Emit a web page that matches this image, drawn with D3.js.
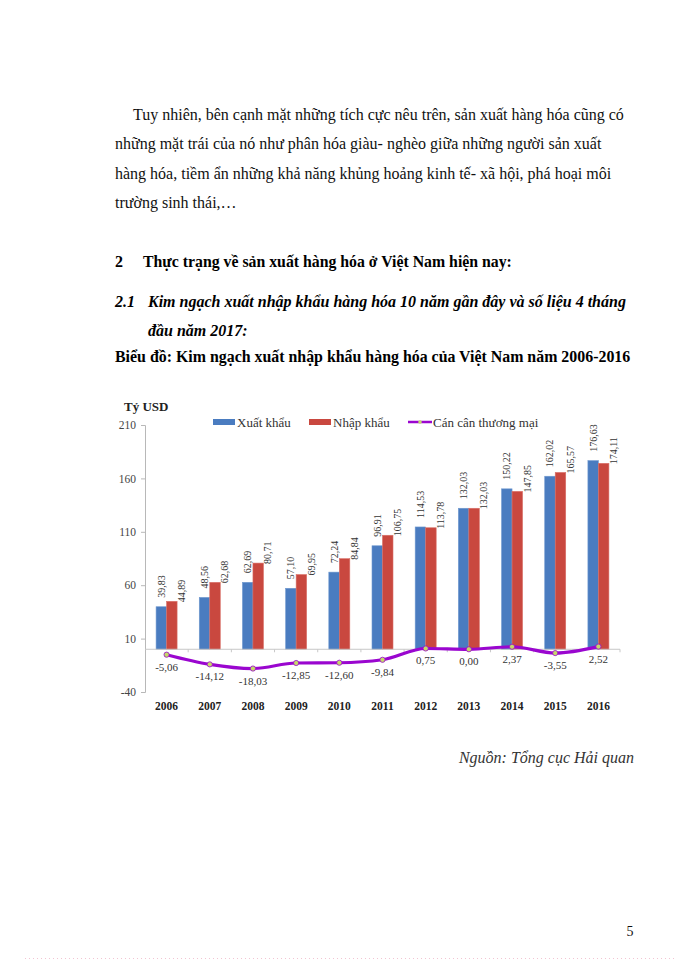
<!DOCTYPE html>
<html>
<head>
<meta charset="utf-8">
<script src="https://cdn.jsdelivr.net/npm/d3@7"></script>
<style>
  body { margin: 0; background: #fff; }
  svg { display: block; }
  svg text { font-family: 'Liberation Serif', 'Tinos', 'Times New Roman', 'DejaVu Serif', serif !important; }
</style>
</head>
<body>
<div id="page"></div>
<script>
// data
var years = ["2006", "2007", "2008", "2009", "2010", "2011", "2012", "2013", "2014", "2015", "2016"];
var exportVals = [39.83, 48.56, 62.69, 57.10, 72.24, 96.91, 114.53, 132.03, 150.22, 162.02, 176.63];
var importVals = [44.89, 62.68, 80.71, 69.95, 84.84, 106.75, 113.78, 132.03, 147.85, 165.57, 174.11];
var balanceVals = [-5.06, -14.12, -18.03, -12.85, -12.60, -9.84, 0.75, 0.00, 2.37, -3.55, 2.52];
var yTicks = [-40, 10, 60, 110, 160, 210];
var seriesNames = ["Xuất khẩu", "Nhập khẩu", "Cán cân thương mại"];

var paragraph = [
  "Tuy nhiên, bên cạnh mặt những tích cực nêu trên, sản xuất hàng hóa cũng có",
  "những mặt trái  của nó như phân hóa giàu- nghèo giữa những người sản xuất",
  "hàng hóa, tiềm ẩn những khả năng khủng hoảng kinh tế- xã hội, phá hoại môi",
  "trường sinh thái,…"
];

var fmt = function(v){ return v.toFixed(2).replace(".", ","); };

var W = 700, H = 960;
var svg = d3.select("#page").append("svg")
  .attr("width", W)
  .attr("height", H);

// page text
var para = svg.append("g").style("font-size", "16px").style("fill", "#111");
para.selectAll("text")
  .data(paragraph)
  .enter()
  .append("text")
  .attr("x", function(d, i){ return i === 0 ? 133 : 115; })
  .attr("y", function(d, i){ return 120 + i * 29.3; })
  .text(function(d){ return d; });

svg.append("text").attr("x", 115).attr("y", 267)
  .style("font-size", "16px").style("font-weight", "bold").text("2");
svg.append("text").attr("x", 143).attr("y", 267)
  .style("font-size", "15.8px").style("font-weight", "bold")
  .text("Thực trạng về sản xuất hàng hóa ở Việt Nam hiện nay:");

svg.append("text").attr("x", 115).attr("y", 307)
  .style("font-size", "16px").style("font-weight", "bold").style("font-style", "italic").text("2.1");
svg.append("text").attr("x", 148).attr("y", 307)
  .style("font-size", "16px").style("font-weight", "bold").style("font-style", "italic")
  .text("Kim ngạch xuất nhập khẩu hàng hóa 10 năm gần đây và số liệu 4 tháng");
svg.append("text").attr("x", 148).attr("y", 336)
  .style("font-size", "16px").style("font-weight", "bold").style("font-style", "italic")
  .text("đầu năm 2017:");

svg.append("text").attr("x", 115).attr("y", 362)
  .style("font-size", "15.9px").style("font-weight", "bold")
  .text("Biểu đồ: Kim ngạch xuất nhập khẩu hàng hóa của Việt Nam năm 2006-2016");

svg.append("text").attr("x", 634).attr("y", 763)
  .attr("text-anchor", "end")
  .style("font-size", "16px").style("font-style", "italic").style("fill", "#333")
  .text("Nguồn: Tổng cục Hải quan");

svg.append("text").attr("x", 630).attr("y", 936)
  .attr("text-anchor", "middle")
  .style("font-size", "14px").style("fill", "#111")
  .text("5");

svg.append("line")
  .attr("x1", 25).attr("x2", 675).attr("y1", 958.5).attr("y2", 958.5)
  .style("stroke", "#f2c4d2").style("stroke-width", 1).style("stroke-dasharray", "1,3");

// chart
var x = d3.scaleBand().domain(years).range([145, 620]).padding(0);
var y = d3.scaleLinear().domain([-40, 210]).range([692, 425]);
var barW = 10.5;

var chart = svg.append("g");

// y axis
var yAxis = chart.append("g")
  .attr("transform", "translate(145,0)")
  .call(d3.axisLeft(y).tickValues(yTicks).tickSize(4).tickPadding(5).tickFormat(function(d){ return String(d); }));
yAxis.attr("font-family", null);
yAxis.select(".domain").style("stroke", "#b8b8b8");
yAxis.selectAll(".tick line").style("stroke", "#b8b8b8");
yAxis.selectAll(".tick text")
  .style("font-size", "11.5px")
  .style("fill", "#444");

chart.append("text").attr("x", 124).attr("y", 411)
  .style("font-size", "13px").style("font-weight", "bold").style("fill", "#222")
  .text("Tỷ USD");

// bars
var groups = chart.selectAll(".year")
  .data(years)
  .enter()
  .append("g")
  .attr("class", "year");

groups.append("rect")
  .attr("x", function(d){ return x(d) + x.bandwidth() / 2 - barW; })
  .attr("width", barW)
  .attr("y", function(d, i){ return y(exportVals[i]); })
  .attr("height", function(d, i){ return y(0) - y(exportVals[i]); })
  .style("fill", "#4a7cc0")
  .style("stroke", "#6f98cf")
  .style("stroke-width", 0.6);

groups.append("rect")
  .attr("x", function(d){ return x(d) + x.bandwidth() / 2; })
  .attr("width", barW)
  .attr("y", function(d, i){ return y(importVals[i]); })
  .attr("height", function(d, i){ return y(0) - y(importVals[i]); })
  .style("fill", "#c9483f")
  .style("stroke", "#d97068")
  .style("stroke-width", 0.6);

// zero line with category ticks
chart.append("line")
  .attr("x1", 145).attr("x2", 620)
  .attr("y1", y(0)).attr("y2", y(0))
  .style("stroke", "#c8c8c8");
chart.selectAll(".ctick")
  .data(years.slice(1).concat(["end"]))
  .enter()
  .append("line")
  .attr("x1", function(d, i){ return x.range()[0] + x.step() * (i + 1); })
  .attr("x2", function(d, i){ return x.range()[0] + x.step() * (i + 1); })
  .attr("y1", y(0)).attr("y2", y(0) + 3)
  .style("stroke", "#c8c8c8");

// value labels (rotated)
groups.append("text")
  .attr("transform", function(d, i){
    return "translate(" + (x(d) + x.bandwidth() / 2 - barW / 2 + 3.5) + "," + (y(exportVals[i]) - 9) + ") rotate(-90)";
  })
  .style("font-size", "10px").style("fill", "#333")
  .text(function(d, i){ return fmt(exportVals[i]); });

groups.append("text")
  .attr("transform", function(d, i){
    return "translate(" + (x(d) + x.bandwidth() / 2 + barW + 8) + "," + (y(importVals[i]) + 1) + ") rotate(-90)";
  })
  .style("font-size", "10px").style("fill", "#333")
  .text(function(d, i){ return fmt(importVals[i]); });

// balance line
var line = d3.line()
  .x(function(d, i){ return x(years[i]) + x.bandwidth() / 2; })
  .y(function(d){ return y(d); })
  .curve(d3.curveMonotoneX);

chart.append("path")
  .datum(balanceVals)
  .attr("d", line)
  .style("fill", "none")
  .style("stroke", "#9a06cf")
  .style("stroke-width", 3.2);

chart.selectAll(".dot")
  .data(balanceVals)
  .enter()
  .append("circle")
  .attr("cx", function(d, i){ return x(years[i]) + x.bandwidth() / 2; })
  .attr("cy", function(d){ return y(d); })
  .attr("r", 2.6)
  .style("fill", "#c5d86a")
  .style("stroke", "#9a06cf")
  .style("stroke-width", 0.8);

chart.selectAll(".blabel")
  .data(balanceVals)
  .enter()
  .append("text")
  .attr("x", function(d, i){ return x(years[i]) + x.bandwidth() / 2; })
  .attr("y", function(d){ return y(d) + 16; })
  .attr("text-anchor", "middle")
  .style("font-size", "11px").style("fill", "#333")
  .text(function(d){ return fmt(d); });

// year labels
chart.selectAll(".ylab")
  .data(years)
  .enter()
  .append("text")
  .attr("x", function(d){ return x(d) + x.bandwidth() / 2; })
  .attr("y", 710)
  .attr("text-anchor", "middle")
  .style("font-size", "11.5px").style("font-weight", "bold").style("fill", "#222")
  .text(function(d){ return d; });

// legend
var legend = chart.append("g").style("font-size", "13px").style("fill", "#333");
var legX = [213, 309, 408];
var legColors = ["#4a7cc0", "#c9483f", "#9a06cf"];
legend.selectAll(".lg")
  .data(seriesNames)
  .enter()
  .append("g")
  .each(function(d, i){
    var g = d3.select(this);
    if (i < 2) {
      g.append("rect").attr("x", legX[i]).attr("y", 419).attr("width", 22).attr("height", 6)
        .style("fill", legColors[i]);
    } else {
      g.append("line").attr("x1", legX[i]).attr("x2", legX[i] + 24).attr("y1", 422).attr("y2", 422)
        .style("stroke", legColors[i]).style("stroke-width", 2.5);
      g.append("circle").attr("cx", legX[i] + 12).attr("cy", 422).attr("r", 1.8)
        .style("fill", "#c5d86a");
    }
    g.append("text").attr("x", legX[i] + (i < 2 ? 24 : 25)).attr("y", 426.5).text(d);
  });
</script>
</body>
</html>
